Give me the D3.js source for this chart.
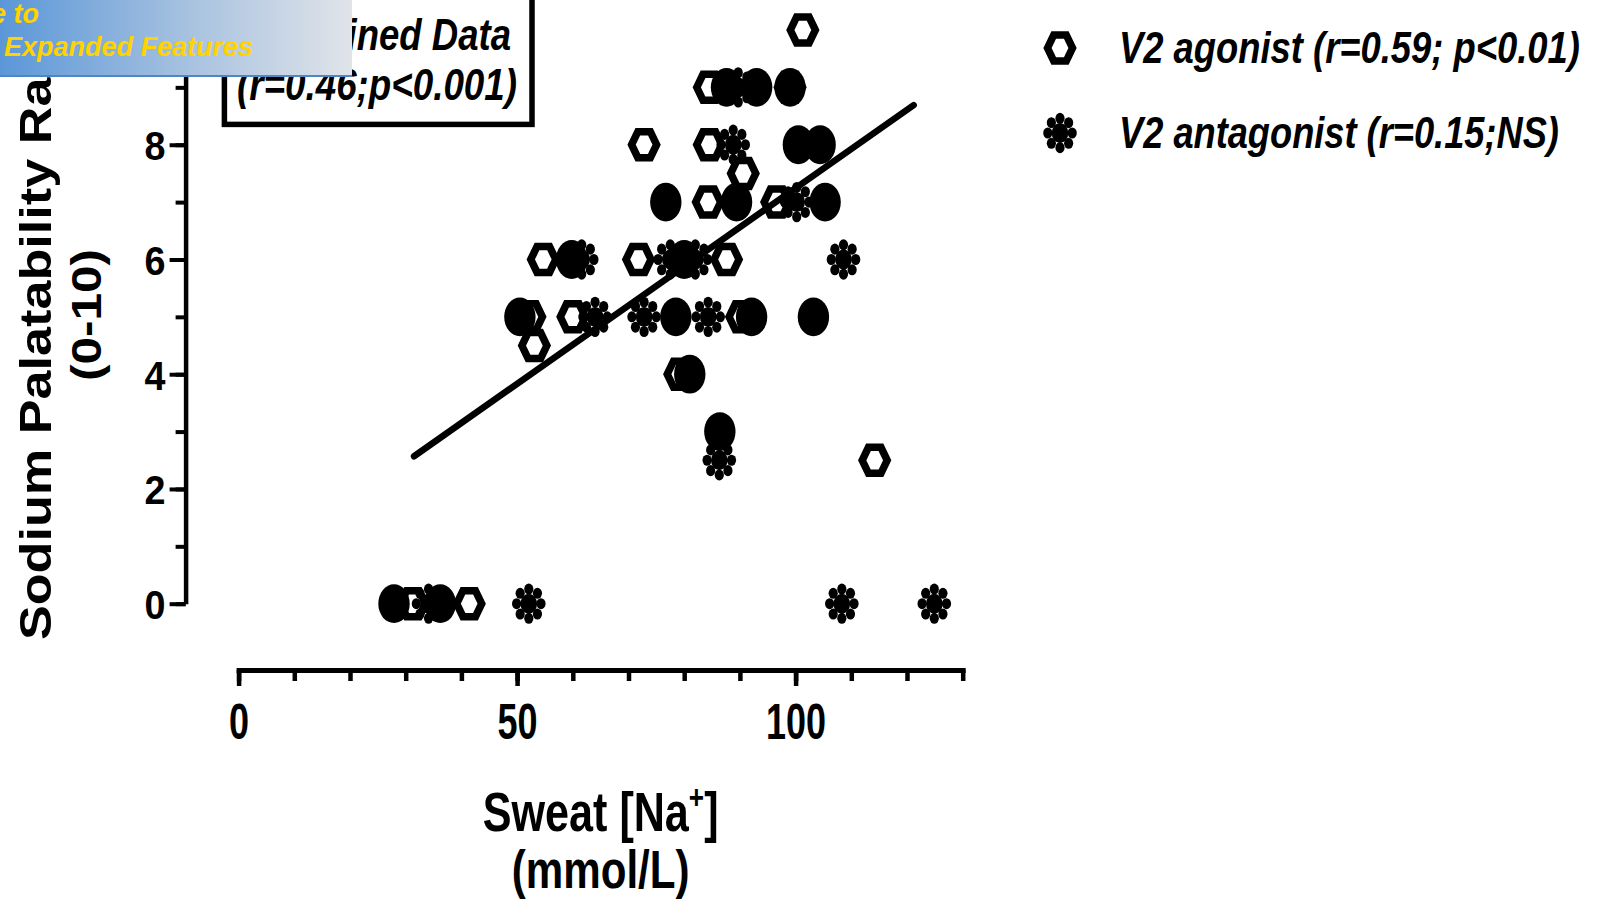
<!DOCTYPE html>
<html>
<head>
<meta charset="utf-8">
<script src="https://cdn.jsdelivr.net/npm/d3@7"></script>
<style>
  html, body { margin: 0; padding: 0; background: #fff; overflow: hidden; }
  svg { display: block; }
  text { font-family: "Liberation Sans", Arial, sans-serif; font-weight: bold; fill: #000; }
</style>
</head>
<body>
<svg id="chart" width="1599" height="899"></svg>
<script>
// values: [sweat Na+ (mmol/L), palatability rating]
const agonist = [
  [31.3, 0], [41.4, 0], [52.3, 5], [53.1, 4.5], [54.7, 6], [60, 5], [71.8, 6],
  [72.8, 8], [79.2, 4], [84.3, 7], [84.5, 8], [84.5, 9], [87.6, 6], [90.3, 5],
  [90.6, 7.5], [96.6, 7], [99, 9], [101.3, 10], [114.2, 2.5]
];
const antagonist = [
  [34.1, 0], [52.1, 0], [108.3, 0], [124.9, 0], [61.6, 6], [77.5, 6], [82, 6],
  [108.6, 6], [64, 5], [72.8, 5], [84.3, 5], [86.3, 2.5], [88.8, 8], [89.7, 9],
  [100.2, 7]
];
// filled ellipse series (its legend entry is not visible in the picture)
const filledGroup = [
  [27.9, 0], [36.2, 0], [50.5, 5], [59.8, 6], [76.7, 7], [78.5, 5], [80, 6],
  [81, 4], [86.4, 3], [87.6, 9], [89.4, 7], [92.1, 5], [93, 9], [99, 9],
  [100.5, 8], [103.2, 5], [104.4, 8], [105.3, 7]
];
// combined regression line end points
const fitLine = [[31.5, 2.57], [121.2, 8.69]];

const xMajorTicks = [0, 50, 100];
const xMinorTicks = d3.range(0, 131, 10);
const yMajorTicks = [0, 2, 4, 6, 8];
const yMinorTicks = d3.range(0, 11, 1);

const legendLabels = ['V2 agonist (r=0.59; p<0.01)', 'V2 antagonist (r=0.15;NS)'];
const boxLabels = ['Combined Data', '(r=0.46;p<0.001)'];
const bannerLabels = ['Click Here to upgrade to', 'Unlimited Pages and Expanded Features'];

const svg = d3.select('#chart');

const x = d3.scaleLinear().domain([0, 130]).range([238.6, 962.7]);
const y = d3.scaleLinear().domain([0, 10]).range([603.7, 30]);
const xAxisY = 670;
const yAxisX = 185.6;

// squeeze a text sideways so it fills the wanted width
function fitWidth(sel, widthOf, anchorX, baseY) {
  sel.each(function(d, i) {
    const t = d3.select(this);
    const w = this.getComputedTextLength();
    const s = widthOf(d, i) / w;
    t.attr('x', 0).attr('y', 0)
      .attr('transform', 'translate(' + anchorX(d, i) + ',' + baseY(d, i) + ') scale(' + s + ',1)');
  });
}

// ---- axes ----
function styleAxis(g, w) {
  g.select('.domain').attr('stroke', '#000').attr('stroke-width', w);
  g.selectAll('.tick line').attr('stroke', '#000').attr('stroke-width', w - 0.5);
}

const xMinor = svg.append('g')
  .attr('transform', 'translate(0,' + xAxisY + ')')
  .call(d3.axisBottom(x).tickValues(xMinorTicks).tickSize(11).tickSizeOuter(0).tickFormat(''));
styleAxis(xMinor, 5);
xMinor.select('.domain').attr('stroke-linecap', 'square');

const xMajor = svg.append('g')
  .attr('transform', 'translate(0,' + xAxisY + ')')
  .call(d3.axisBottom(x).tickValues(xMajorTicks).tickSize(16).tickSizeOuter(0));
styleAxis(xMajor, 5);
xMajor.select('.domain').remove();
xMajor.selectAll('.tick text')
  .attr('y', null).attr('dy', null)
  .attr('font-size', 50)
  .attr('transform', 'translate(0,69) scale(0.72,1)');

const yMinor = svg.append('g')
  .attr('transform', 'translate(' + yAxisX + ',0)')
  .call(d3.axisLeft(y).tickValues(yMinorTicks).tickSize(10).tickSizeOuter(0).tickFormat(''));
styleAxis(yMinor, 4.5);

const yMajor = svg.append('g')
  .attr('transform', 'translate(' + yAxisX + ',0)')
  .call(d3.axisLeft(y).tickValues(yMajorTicks).tickSize(16).tickSizeOuter(0));
styleAxis(yMajor, 4.5);
yMajor.select('.domain').remove();
yMajor.selectAll('.tick text')
  .attr('x', null).attr('dy', null)
  .attr('font-size', 41)
  .attr('transform', 'translate(-20,15) scale(0.92,1)');

// ---- axis titles ----
const xMid = (x.range()[0] + x.range()[1]) / 2;
const xTitle = svg.append('text')
  .attr('text-anchor', 'middle')
  .attr('font-size', 56)
  .attr('transform', 'translate(' + xMid + ',831) scale(0.77,1)');
xTitle.append('tspan').text('Sweat [Na');
xTitle.append('tspan').attr('font-size', 34).attr('dy', -22).text('+');
xTitle.append('tspan').attr('dy', 22).text(']');

svg.append('text')
  .attr('text-anchor', 'middle')
  .attr('font-size', 54)
  .attr('transform', 'translate(' + xMid + ',888) scale(0.78,1)')
  .text('(mmol/L)');

svg.append('text')
  .attr('text-anchor', 'middle')
  .attr('font-size', 45)
  .attr('transform', 'translate(51,311) rotate(-90) scale(1.16,1)')
  .text('Sodium Palatability Rating');
svg.append('text')
  .attr('text-anchor', 'middle')
  .attr('font-size', 42)
  .attr('transform', 'translate(101,315) rotate(-90) scale(1.18,1)')
  .text('(0-10)');

// ---- combined data box ----
svg.append('rect')
  .attr('x', 224.4).attr('y', -20)
  .attr('width', 307.6).attr('height', 144.4)
  .attr('fill', '#fff').attr('stroke', '#000').attr('stroke-width', 5.5);
svg.selectAll('.boxlabel')
  .data(boxLabels)
  .enter().append('text')
  .attr('class', 'boxlabel')
  .attr('text-anchor', 'middle')
  .attr('font-size', 44)
  .attr('font-style', 'italic')
  .text(d => d)
  .call(fitWidth, (d, i) => i === 0 ? 268 : 280, () => 377, (d, i) => 50 + i * 50);

// ---- symbols ----
const hexPath = 'M-12.5,0L-6.25,-13L6.25,-13L12.5,0L6.25,13L-6.25,13Z';
function drawHex(sel) {
  sel.append('path')
    .attr('d', hexPath)
    .attr('fill', 'none')
    .attr('stroke', '#000')
    .attr('stroke-width', 7.5)
    .attr('stroke-linejoin', 'miter');
}
function drawStar(sel) {
  const g = sel.append('g').attr('transform', 'scale(1,1.2)');
  d3.range(8).forEach(k => {
    const a = k * Math.PI / 4;
    g.append('circle')
      .attr('cx', 12.2 * Math.sin(a)).attr('cy', -12.2 * Math.cos(a))
      .attr('r', 4.6).attr('fill', '#000');
  });
  g.append('circle').attr('r', 8.3).attr('fill', '#000');
}

const plot = svg.append('g');
plot.selectAll('.hex')
  .data(agonist)
  .enter().append('g')
  .attr('class', 'hex')
  .attr('transform', d => 'translate(' + x(d[0]) + ',' + y(d[1]) + ')')
  .call(drawHex);
plot.selectAll('.star')
  .data(antagonist)
  .enter().append('g')
  .attr('class', 'star')
  .attr('transform', d => 'translate(' + x(d[0]) + ',' + y(d[1]) + ')')
  .each(function() { drawStar(d3.select(this)); });
plot.selectAll('.dot')
  .data(filledGroup)
  .enter().append('ellipse')
  .attr('class', 'dot')
  .attr('cx', d => x(d[0]))
  .attr('cy', d => y(d[1]))
  .attr('rx', 15.7)
  .attr('ry', 19.4)
  .attr('fill', '#000');

plot.append('path')
  .attr('d', d3.line().x(d => x(d[0])).y(d => y(d[1]))(fitLine))
  .attr('fill', 'none')
  .attr('stroke', '#000')
  .attr('stroke-width', 6.5)
  .attr('stroke-linecap', 'round');

// ---- legend ----
const legend = svg.selectAll('.legend')
  .data(legendLabels)
  .enter().append('g')
  .attr('class', 'legend')
  .attr('transform', (d, i) => 'translate(1060,' + (48 + i * 85) + ')');
legend.filter((d, i) => i === 0).call(drawHex);
legend.filter((d, i) => i === 1).each(function() { drawStar(d3.select(this)); });
legend.append('text')
  .attr('font-size', 44)
  .attr('font-style', 'italic')
  .text(d => d)
  .call(fitWidth, (d, i) => i === 0 ? 461 : 440, () => 59, () => 15);

// ---- watermark banner ----
const grad = svg.append('defs').append('linearGradient')
  .attr('id', 'banner').attr('x1', '0%').attr('x2', '100%');
grad.append('stop').attr('offset', '0%').attr('stop-color', '#5b97d8');
grad.append('stop').attr('offset', '55%').attr('stop-color', '#a9c3e0');
grad.append('stop').attr('offset', '100%').attr('stop-color', '#e0e4e9');
svg.append('rect')
  .attr('x', 0).attr('y', 0).attr('width', 352).attr('height', 76)
  .attr('fill', 'url(#banner)');
svg.append('line')
  .attr('x1', 0).attr('x2', 352).attr('y1', 76).attr('y2', 76)
  .attr('stroke', '#4f86c6').attr('stroke-width', 2);
svg.selectAll('.bannertext')
  .data(bannerLabels)
  .enter().append('text')
  .attr('class', 'bannertext')
  .attr('text-anchor', 'end')
  .attr('font-size', 27)
  .attr('font-style', 'italic')
  .style('fill', '#ffd200')
  .attr('x', (d, i) => i === 0 ? 39 : 253)
  .attr('y', (d, i) => i === 0 ? 23 : 56)
  .text(d => d);
</script>
</body>
</html>
